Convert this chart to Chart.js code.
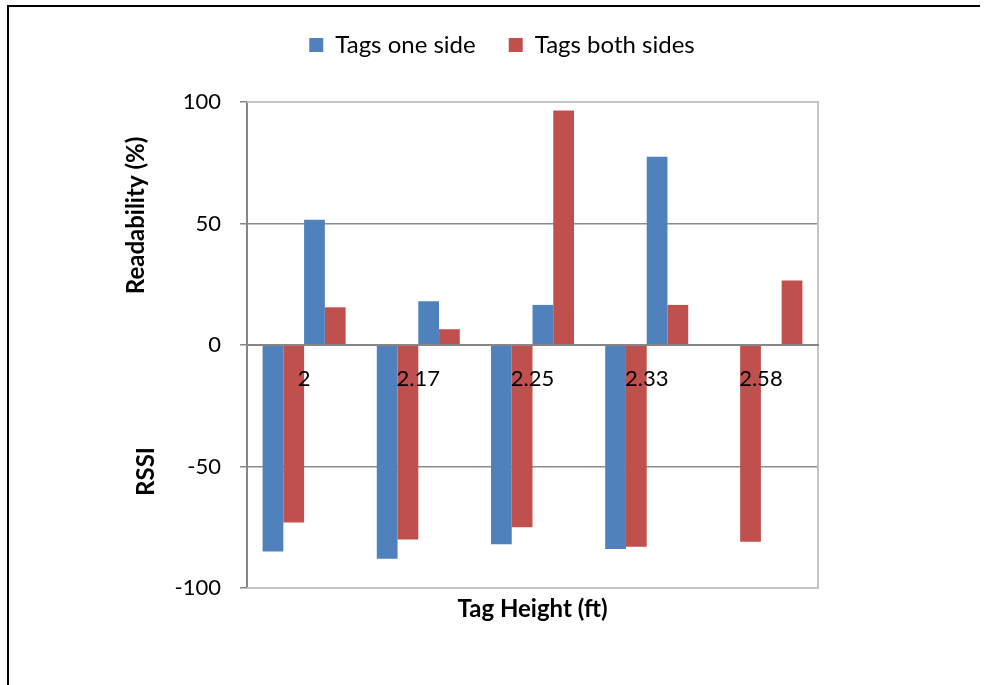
<!DOCTYPE html>
<html>
<head>
<meta charset="utf-8">
<title>Tag height chart</title>
<script src="https://cdn.jsdelivr.net/npm/chart.js@4.4.0/dist/chart.umd.min.js"></script>
<style>
  body { margin: 0; background: #fff; }
  .wrap { position: relative; width: 997px; height: 685px; overflow: hidden; }
  .frame { position: absolute; left: 7px; top: 5px; width: 971px; height: 700px; border-left: 2px solid #000; border-top: 2px solid #000; pointer-events: none; }
  canvas { position: absolute; left: 0; top: 0; }
</style>
</head>
<body>
<div class="wrap">
  <canvas id="chart" width="997" height="685"></canvas>
  <div class="frame"></div>
</div>
<script>
// data
const heights = ['2', '2.17', '2.25', '2.33', '2.58']
const rssiOneSide = [-85, -88, -82, -84, null]
const rssiBothSides = [-73, -80, -75, -83, -81]
const readOneSide = [51.5, 18, 16.5, 77.5, null]
const readBothSides = [15.5, 6.5, 96.5, 16.5, 26.5]
const yTicks = [-100, -50, 0, 50, 100]

const blue = '#4F81BD'
const red = '#C0504D'
const font = 'Lato'

// plot border + the two titles on the left, one per half of the value axis
const sideTitles = {
  id: 'sideTitles',
  beforeDatasetsDraw(chart) {
    const { ctx, chartArea: area } = chart
    ctx.save()
    ctx.strokeStyle = '#c4c4c4'
    ctx.lineWidth = 2
    ctx.beginPath()
    ctx.moveTo(area.left, area.top)
    ctx.lineTo(area.right, area.top)
    ctx.lineTo(area.right, area.bottom)
    ctx.lineTo(area.left, area.bottom)
    ctx.stroke()
    ctx.restore()
  },
  afterDraw(chart) {
    const { ctx, chartArea: area, scales: { y } } = chart
    ctx.save()
    ctx.font = 'bold 24px ' + font
    ctx.fillStyle = '#000'
    ctx.textAlign = 'center'
    ctx.textBaseline = 'middle'
    ctx.translate(area.left - 111, y.getPixelForValue(50) - 8)
    ctx.rotate(-Math.PI / 2)
    ctx.fillText('Readability (%)', 0, 0)
    ctx.restore()

    ctx.save()
    ctx.font = 'bold 24px ' + font
    ctx.fillStyle = '#000'
    ctx.textAlign = 'center'
    ctx.textBaseline = 'middle'
    ctx.translate(area.left - 101, y.getPixelForValue(-50) + 5)
    ctx.rotate(-Math.PI / 2)
    ctx.fillText('RSSI', 0, 0)
    ctx.restore()
  }
}

const ctx = document.querySelector('#chart').getContext('2d')

new Chart(ctx, {
  type: 'bar',
  data: {
    labels: heights,
    datasets: [
      { label: 'Tags one side', data: rssiOneSide, backgroundColor: blue },
      { label: 'Tags both sides', data: rssiBothSides, backgroundColor: red },
      { label: 'Tags one side', data: readOneSide, backgroundColor: blue },
      { label: 'Tags both sides', data: readBothSides, backgroundColor: red }
    ]
  },
  options: {
    responsive: false,
    animation: false,
    devicePixelRatio: 1,
    datasets: {
      bar: { xAxisID: 'x', yAxisID: 'y', categoryPercentage: 0.727, barPercentage: 1 }
    },
    layout: { padding: { left: 7, right: 0, top: 0, bottom: 0 } },
    plugins: {
      tooltip: { enabled: false },
      legend: {
        position: 'top',
        labels: {
          boxWidth: 14,
          boxHeight: 14,
          padding: 33,
          color: '#000',
          font: { family: font, size: 24 },
          filter: item => item.datasetIndex < 2
        }
      }
    },
    scales: {
      x: {
        type: 'category',
        position: { y: 0 },
        grid: { display: false, drawTicks: false },
        border: { display: true, color: '#868686', width: 2, z: 1 },
        ticks: { z: 1, color: '#000', font: { family: font, size: 22 }, padding: 21, maxRotation: 0, autoSkip: false }
      },
      x2: {
        type: 'category',
        position: 'bottom',
        grid: { display: false, drawTicks: false },
        border: { display: false },
        ticks: { display: false },
        title: {
          display: true,
          text: 'Tag Height (ft)',
          color: '#000',
          font: { family: font, size: 24, weight: 'bold' },
          padding: { top: 0, bottom: 61 }
        },
        afterFit(scale) { scale.height = 97 }
      },
      xTop: {
        type: 'category',
        position: 'top',
        grid: { display: false, drawTicks: false },
        border: { display: false },
        ticks: { display: false },
        afterFit(scale) { scale.height = 35 }
      },
      y: {
        type: 'linear',
        position: 'left',
        min: -100,
        max: 100,
        afterBuildTicks(scale) { scale.ticks = yTicks.map(v => ({ value: v })) },
        ticks: { color: '#000', font: { family: font, size: 22 }, padding: 19 },
        grid: {
          color: c => Math.abs(c.tick.value) === 100 ? '#c4c4c4' : '#8c8c8c',
          lineWidth: 1.5,
          tickLength: 7,
          tickColor: '#868686'
        },
        border: { color: '#868686', width: 2 },
        afterFit(scale) { scale.width = 240 }
      },
      yRight: {
        type: 'linear',
        position: 'right',
        grid: { display: false, drawTicks: false },
        border: { display: false },
        ticks: { display: false },
        afterFit(scale) { scale.width = 179 }
      }
    }
  },
  plugins: [sideTitles]
})
</script>
</body>
</html>
